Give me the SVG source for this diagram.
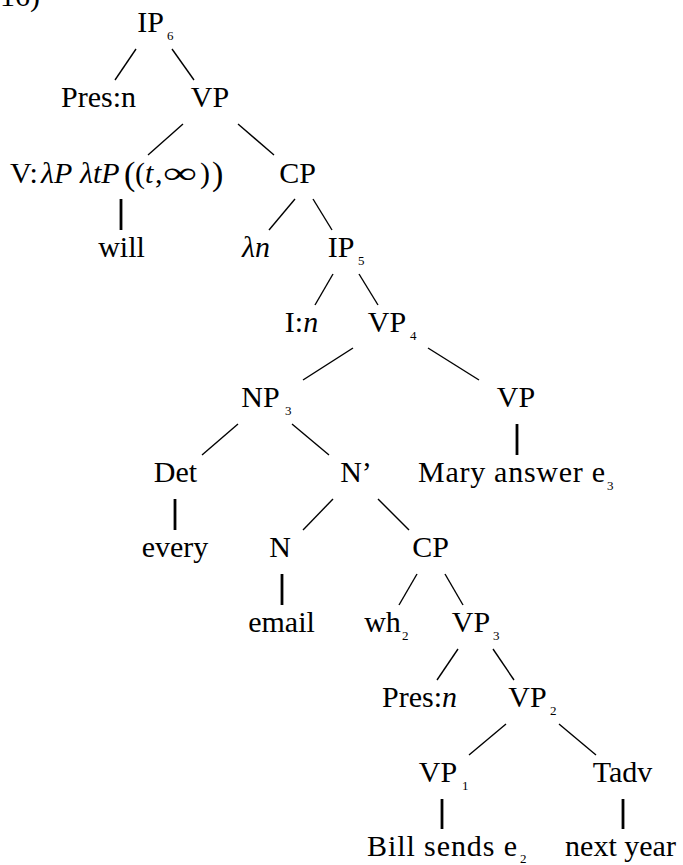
<svg xmlns="http://www.w3.org/2000/svg" width="683" height="865" viewBox="0 0 683 865" font-family="'Liberation Serif', 'DejaVu Serif', 'Times New Roman', serif">
<style>
text{font-family:'Liberation Serif','DejaVu Serif','Times New Roman',serif;fill:#000}
.t{font-size:30px}
.m{text-anchor:middle}
.i{font-style:italic}
.s{font-size:13px}
.e{stroke:#000;stroke-width:1.4;fill:none}
.v{stroke:#000;stroke-width:2.8;fill:none}
</style>
<rect width="683" height="865" fill="#fff"/>
<text class="t" x="-10" y="6">(16)</text>
<g id="connectors">
<line class="e" x1="136" y1="49" x2="115" y2="80"/>
<line class="e" x1="172" y1="49" x2="194" y2="80"/>
<line class="e" x1="183" y1="124" x2="148" y2="155"/>
<line class="e" x1="238" y1="124" x2="274" y2="155"/>
<line class="v" x1="121" y1="199" x2="121" y2="230"/>
<line class="e" x1="295" y1="199" x2="269" y2="230"/>
<line class="e" x1="313" y1="199" x2="332" y2="230"/>
<line class="e" x1="333" y1="274" x2="315" y2="305"/>
<line class="e" x1="359" y1="274" x2="378" y2="305"/>
<line class="e" x1="353" y1="348" x2="303" y2="380"/>
<line class="e" x1="428" y1="348" x2="479" y2="380"/>
<line class="e" x1="238" y1="424" x2="202" y2="455"/>
<line class="e" x1="292" y1="424" x2="329" y2="455"/>
<line class="v" x1="517" y1="424" x2="517" y2="455"/>
<line class="v" x1="175" y1="499" x2="175" y2="530"/>
<line class="e" x1="333" y1="499" x2="303" y2="530"/>
<line class="e" x1="378" y1="499" x2="409" y2="530"/>
<line class="v" x1="282" y1="574" x2="282" y2="605"/>
<line class="e" x1="417" y1="574" x2="399" y2="605"/>
<line class="e" x1="445" y1="574" x2="463" y2="605"/>
<line class="e" x1="458" y1="649" x2="437" y2="680"/>
<line class="e" x1="493" y1="649" x2="514" y2="680"/>
<line class="e" x1="506" y1="724" x2="469" y2="755"/>
<line class="e" x1="559" y1="724" x2="596" y2="755"/>
<line class="v" x1="442" y1="799" x2="442" y2="829"/>
<line class="v" x1="623" y1="799" x2="623" y2="829"/>
</g>
<g id="ip6"><text class="t m" x="150.5" y="32">IP</text><text class="s" x="167" y="40">6</text></g>
<g id="pres1"><text class="t m" x="98.5" y="107">Pres:n</text></g>
<g id="vp-top"><text class="t m" x="210" y="107">VP</text></g>
<g id="v-will">
<text class="t" y="183"><tspan x="10">V:</tspan><tspan x="41" class="i">λP</tspan><tspan x="80" class="i">λtP</tspan></text>
<text class="t" x="124" y="185" style="font-size:34px">(</text>
<text class="t" x="135" y="183">(</text>
<text class="t i" x="145" y="183">t</text>
<text class="t" x="155" y="183">,</text>
<text class="t" x="163" y="183" textLength="34" lengthAdjust="spacingAndGlyphs">∞</text>
<text class="t" x="200" y="183">)</text>
<text class="t" x="212" y="185" style="font-size:34px">)</text>
</g>
<g id="cp-top"><text class="t m" x="297.5" y="183">CP</text></g>
<g id="will"><text class="t m" x="121.5" y="257">will</text></g>
<g id="lambda-n"><text class="t m i" x="256" y="257">λn</text></g>
<g id="ip5"><text class="t m" x="341" y="257">IP</text><text class="s" x="358" y="265">5</text></g>
<g id="i-n"><text class="t m" x="301.5" y="332">I:<tspan class="i">n</tspan></text></g>
<g id="vp4"><text class="t m" x="387" y="332">VP</text><text class="s" x="410" y="340">4</text></g>
<g id="np3"><text class="t m" x="260.5" y="407">NP</text><text class="s" x="285" y="415">3</text></g>
<g id="vp-mary"><text class="t m" x="516" y="407">VP</text></g>
<g id="det"><text class="t m" x="175.5" y="482">Det</text></g>
<g id="nbar"><text class="t m" x="356" y="482">N’</text></g>
<g id="mary"><text class="t" x="418" y="482" textLength="187" lengthAdjust="spacing">Mary answer e</text><text class="s" x="607" y="490">3</text></g>
<g id="every"><text class="t m" x="175" y="557">every</text></g>
<g id="n"><text class="t m" x="280" y="557">N</text></g>
<g id="cp-rel"><text class="t m" x="430.5" y="557">CP</text></g>
<g id="email"><text class="t m" x="281.5" y="632">email</text></g>
<g id="wh2"><text class="t m" x="382.5" y="632">wh</text><text class="s" x="402" y="640">2</text></g>
<g id="vp3"><text class="t m" x="471" y="632">VP</text><text class="s" x="493" y="640">3</text></g>
<g id="pres2"><text class="t m" x="419.5" y="707">Pres:<tspan class="i">n</tspan></text></g>
<g id="vp2"><text class="t m" x="527.5" y="707">VP</text><text class="s" x="550" y="715">2</text></g>
<g id="vp1"><text class="t m" x="438" y="782">VP</text><text class="s" x="462" y="790">1</text></g>
<g id="tadv"><text class="t m" x="622.5" y="782">Tadv</text></g>
<g id="bill"><text class="t" x="367" y="856" textLength="150" lengthAdjust="spacing">Bill sends e</text><text class="s" x="520" y="863">2</text></g>
<g id="next-year"><text class="t m" x="620.5" y="856">next year</text></g>
</svg>
